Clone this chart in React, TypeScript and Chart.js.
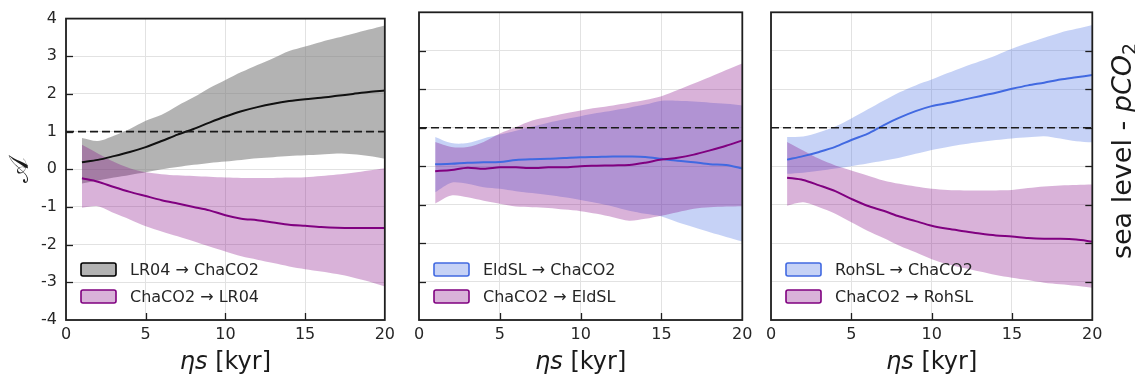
import React, { useEffect, useRef } from "react";
import { Chart, registerables } from "chart.js";

Chart.register(...registerables);

// ---------------- data ----------------
const etaS = [1, 2, 3, 4, 5, 6, 7, 8, 9, 10, 11, 12, 13, 14, 15, 16, 17, 18, 19, 20];
const xMin = 0;
const xMax = 20;
const xTickStep = 5;
const yMin = -4;
const yMax = 4;
const yTickStep = 1;
const referenceLevel = 1;

// Panel 1: LR04 -> ChaCO2 (grey) and ChaCO2 -> LR04 (purple)
const lr04ChaMean = [0.19, 0.25, 0.35, 0.46, 0.59, 0.75, 0.92, 1.07, 1.24, 1.4, 1.54, 1.65, 1.74, 1.81, 1.86, 1.9, 1.95, 2.0, 2.05, 2.09];
const lr04ChaUpper = [0.83, 0.75, 0.89, 1.07, 1.29, 1.45, 1.69, 1.91, 2.16, 2.37, 2.58, 2.77, 2.95, 3.14, 3.26, 3.38, 3.49, 3.6, 3.71, 3.82];
const lr04ChaLower = [-0.38, -0.3, -0.22, -0.15, -0.08, 0.0, 0.06, 0.12, 0.17, 0.21, 0.25, 0.29, 0.32, 0.35, 0.37, 0.39, 0.42, 0.4, 0.35, 0.28];
const chaLr04Mean = [-0.24, -0.33, -0.47, -0.6, -0.71, -0.82, -0.91, -1.0, -1.09, -1.22, -1.31, -1.35, -1.41, -1.47, -1.5, -1.53, -1.55, -1.56, -1.56, -1.56];
const chaLr04Upper = [0.65, 0.42, 0.2, 0.03, -0.08, -0.13, -0.16, -0.18, -0.2, -0.22, -0.23, -0.23, -0.23, -0.22, -0.21, -0.18, -0.14, -0.09, -0.03, 0.03];
const chaLr04Lower = [-1.02, -0.98, -1.16, -1.33, -1.51, -1.65, -1.78, -1.91, -2.05, -2.18, -2.31, -2.4, -2.49, -2.58, -2.65, -2.71, -2.78, -2.87, -2.98, -3.11];

// Panel 2: EldSL -> ChaCO2 (blue) and ChaCO2 -> EldSL (purple)
const eldChaMean = [0.05, 0.06, 0.09, 0.1, 0.11, 0.16, 0.18, 0.19, 0.21, 0.23, 0.24, 0.25, 0.25, 0.24, 0.19, 0.14, 0.1, 0.05, 0.03, -0.06];
const eldChaUpper = [0.76, 0.6, 0.6, 0.72, 0.82, 0.92, 1.03, 1.13, 1.22, 1.3, 1.38, 1.45, 1.52, 1.6, 1.7, 1.7, 1.68, 1.65, 1.62, 1.58];
const eldChaLower = [-0.68, -0.43, -0.46, -0.55, -0.59, -0.65, -0.7, -0.75, -0.81, -0.88, -0.96, -1.05, -1.16, -1.24, -1.31, -1.46, -1.59, -1.72, -1.84, -1.96];
const chaEldMean = [-0.13, -0.1, -0.04, -0.07, -0.03, -0.03, -0.05, -0.03, -0.03, 0.0, 0.01, 0.02, 0.03, 0.09, 0.17, 0.22, 0.3, 0.41, 0.53, 0.67];
const chaEldUpper = [0.63, 0.5, 0.5, 0.63, 0.85, 1.02, 1.19, 1.28, 1.37, 1.45, 1.52, 1.58, 1.65, 1.72, 1.82, 1.98, 2.15, 2.32, 2.5, 2.67];
const chaEldLower = [-0.97, -0.76, -0.81, -0.9, -0.98, -1.05, -1.07, -1.09, -1.13, -1.17, -1.24, -1.33, -1.42, -1.37, -1.29, -1.2, -1.11, -1.07, -1.05, -1.04];

// Panel 3: RohSL -> ChaCO2 (blue) and ChaCO2 -> RohSL (purple)
const rohChaMean = [0.17, 0.26, 0.37, 0.5, 0.68, 0.84, 1.06, 1.26, 1.43, 1.56, 1.64, 1.73, 1.82, 1.91, 2.01, 2.1, 2.17, 2.25, 2.31, 2.37];
const rohChaUpper = [0.76, 0.77, 0.88, 1.03, 1.24, 1.47, 1.7, 1.92, 2.1, 2.25, 2.42, 2.58, 2.73, 2.88, 3.05, 3.2, 3.34, 3.47, 3.57, 3.67];
const rohChaLower = [-0.2, -0.17, -0.12, -0.06, 0.0, 0.07, 0.14, 0.22, 0.32, 0.42, 0.5, 0.57, 0.63, 0.68, 0.72, 0.75, 0.78, 0.72, 0.65, 0.62];
const chaRohMean = [-0.3, -0.36, -0.5, -0.65, -0.85, -1.03, -1.16, -1.31, -1.43, -1.55, -1.63, -1.69, -1.75, -1.8, -1.83, -1.87, -1.89, -1.89, -1.91, -1.96];
const chaRohUpper = [0.63, 0.41, 0.19, 0.02, -0.11, -0.24, -0.37, -0.46, -0.53, -0.59, -0.62, -0.63, -0.63, -0.63, -0.62, -0.57, -0.53, -0.5, -0.49, -0.48];
const chaRohLower = [-1.03, -0.94, -1.07, -1.24, -1.46, -1.68, -1.87, -2.07, -2.24, -2.42, -2.55, -2.65, -2.74, -2.83, -2.9, -2.96, -3.03, -3.07, -3.11, -3.16];

const legendLabels = [
  ["LR04 \u2192 ChaCO2", "ChaCO2 \u2192 LR04"],
  ["EldSL \u2192 ChaCO2", "ChaCO2 \u2192 EldSL"],
  ["RohSL \u2192 ChaCO2", "ChaCO2 \u2192 RohSL"],
];
const xTitleMath = "\u03b7s";
const xTitleUnit = " [kyr]";
const yTitle = "\ud835\udc9c";

// ---------------- styles ----------------
const FONT = "'DejaVu Sans', 'Noto Sans', sans-serif";
const GREY_FILL = "rgba(128,128,128,0.6)";
const PURPLE_FILL = "rgba(128,0,128,0.3)";
const BLUE_FILL = "rgba(65,105,225,0.3)";
const BLACK_LINE = "#111111";
const PURPLE_LINE = "#800080";
const BLUE_LINE = "#4169e1";
const GRID = "#e2e2e2";
const FRAME = "#1e1e1e";
const TEXT = "#262626";

const pts = (ys: number[]) => etaS.map((x, i) => ({ x, y: ys[i] }));

function band(lower: number[], upper: number[], fill: string, order: number) {
  return [
    { data: pts(lower), borderColor: "rgba(0,0,0,0)", borderWidth: 0, pointRadius: 0, fill: false, tension: 0.3, order },
    { data: pts(upper), borderColor: "rgba(0,0,0,0)", borderWidth: 0, pointRadius: 0, fill: "-1", backgroundColor: fill, tension: 0.3, order },
  ];
}
function meanLine(mean: number[], color: string, order: number) {
  return { data: pts(mean), borderColor: color, borderWidth: 2, pointRadius: 0, fill: false, tension: 0.3, order };
}
function refLine() {
  return {
    data: [{ x: xMin, y: referenceLevel }, { x: xMax, y: referenceLevel }],
    borderColor: "#1a1a1a", borderWidth: 1.6, borderDash: [8, 4], pointRadius: 0, fill: false, order: 0,
  };
}

type PanelSpec = {
  left: number;
  width: number;
  padding: { left: number; right: number; top: number; bottom: number };
  yWidth: number;
  yPos: "left" | "right";
  showYLabels: boolean;
  tickSide: "left" | "right";
  datasets: any[];
  legend: { label: string; fill: string; stroke: string }[];
  yTitle?: boolean;
  rightTitle?: boolean;
};

const panels: PanelSpec[] = [
  {
    left: 0, width: 400,
    padding: { left: 0, right: 13, top: 17.5, bottom: 0 },
    yWidth: 66, yPos: "left", showYLabels: true, tickSide: "left",
    datasets: [
      ...band(lr04ChaLower, lr04ChaUpper, GREY_FILL, 4),
      ...band(chaLr04Lower, chaLr04Upper, PURPLE_FILL, 3),
      meanLine(lr04ChaMean, BLACK_LINE, 2),
      meanLine(chaLr04Mean, PURPLE_LINE, 1),
      refLine(),
    ],
    legend: [
      { label: legendLabels[0][0], fill: GREY_FILL, stroke: "#000000" },
      { label: legendLabels[0][1], fill: PURPLE_FILL, stroke: PURPLE_LINE },
    ],
    yTitle: true,
  },
  {
    left: 400, width: 360,
    padding: { left: 0, right: 17.7, top: 12.3, bottom: 0 },
    yWidth: 19, yPos: "left", showYLabels: false, tickSide: "left",
    datasets: [
      ...band(eldChaLower, eldChaUpper, BLUE_FILL, 4),
      ...band(chaEldLower, chaEldUpper, PURPLE_FILL, 3),
      meanLine(eldChaMean, BLUE_LINE, 2),
      meanLine(chaEldMean, PURPLE_LINE, 1),
      refLine(),
    ],
    legend: [
      { label: legendLabels[1][0], fill: BLUE_FILL, stroke: BLUE_LINE },
      { label: legendLabels[1][1], fill: PURPLE_FILL, stroke: PURPLE_LINE },
    ],
  },
  {
    left: 760, width: 375,
    padding: { left: 11, right: 0, top: 12.3, bottom: 0 },
    yWidth: 42.7, yPos: "right", showYLabels: false, tickSide: "right",
    datasets: [
      ...band(rohChaLower, rohChaUpper, BLUE_FILL, 4),
      ...band(chaRohLower, chaRohUpper, PURPLE_FILL, 3),
      meanLine(rohChaMean, BLUE_LINE, 2),
      meanLine(chaRohMean, PURPLE_LINE, 1),
      refLine(),
    ],
    legend: [
      { label: legendLabels[2][0], fill: BLUE_FILL, stroke: BLUE_LINE },
      { label: legendLabels[2][1], fill: PURPLE_FILL, stroke: PURPLE_LINE },
    ],
    rightTitle: true,
  },
];

type Part = { t: string; italic?: boolean; scale?: number; dy?: number };

function drawRich(ctx: CanvasRenderingContext2D, parts: Part[], size: number, cx: number, cy: number, rot: number) {
  ctx.save();
  ctx.translate(cx, cy);
  ctx.rotate(rot);
  ctx.textBaseline = "alphabetic";
  ctx.textAlign = "left";
  const fontOf = (p: Part) => `${p.italic ? "italic " : ""}${Math.round(size * (p.scale ?? 1))}px ${FONT}`;
  const widths = parts.map((p) => {
    ctx.font = fontOf(p);
    return ctx.measureText(p.t).width;
  });
  const total = widths.reduce((a, b) => a + b, 0);
  let x = -total / 2;
  parts.forEach((p, i) => {
    ctx.font = fontOf(p);
    ctx.fillText(p.t, x, (p.dy ?? 0) * size);
    x += widths[i];
  });
  ctx.restore();
}

function decorPlugin(spec: PanelSpec, idx: number) {
  return {
    id: "decor" + idx,
    afterDraw(chart: any) {
      const ctx: CanvasRenderingContext2D = chart.ctx;
      const a = chart.chartArea;
      const xs = chart.scales.x;
      const ys = chart.scales.y;
      ctx.save();
      // inward tick marks
      ctx.strokeStyle = FRAME;
      ctx.lineWidth = 1.3;
      xs.ticks.forEach((t: any) => {
        if (t.value <= xs.min || t.value >= xs.max) return;
        const px = Math.round(xs.getPixelForValue(t.value)) + 0.5;
        ctx.beginPath();
        ctx.moveTo(px, a.bottom);
        ctx.lineTo(px, a.bottom - 7);
        ctx.stroke();
      });
      ys.ticks.forEach((t: any) => {
        if (t.value <= ys.min || t.value >= ys.max) return;
        const py = Math.round(ys.getPixelForValue(t.value)) + 0.5;
        ctx.beginPath();
        if (spec.tickSide === "left") {
          ctx.moveTo(a.left, py);
          ctx.lineTo(a.left + 7, py);
        } else {
          ctx.moveTo(a.right, py);
          ctx.lineTo(a.right - 7, py);
        }
        ctx.stroke();
      });
      // frame
      ctx.lineWidth = 1.8;
      ctx.strokeRect(a.left, a.top, a.right - a.left, a.bottom - a.top);
      // legend
      spec.legend.forEach((item, i) => {
        const cy = a.bottom - 50.5 + i * 27;
        const bx = a.left + 15;
        ctx.beginPath();
        ctx.roundRect(bx, cy - 6.5, 35, 13, 2);
        ctx.fillStyle = item.fill;
        ctx.fill();
        ctx.lineWidth = 1.6;
        ctx.strokeStyle = item.stroke;
        ctx.stroke();
        ctx.fillStyle = TEXT;
        ctx.font = `16px ${FONT}`;
        ctx.textBaseline = "middle";
        ctx.textAlign = "left";
        ctx.fillText(item.label, bx + 49, cy + 1);
      });
      // x title
      ctx.fillStyle = "#1a1a1a";
      drawRich(ctx, [{ t: xTitleMath, italic: true }, { t: xTitleUnit }], 24, (a.left + a.right) / 2, 369, 0);
      if (spec.yTitle) {
        ctx.save();
        ctx.translate(28, 170);
        ctx.rotate(-Math.PI / 2);
        ctx.font = `27px ${FONT}`;
        ctx.textAlign = "center";
        ctx.textBaseline = "alphabetic";
        ctx.fillText(yTitle, 0, 0);
        ctx.restore();
      }
      if (spec.rightTitle) {
        drawRich(
          ctx,
          [{ t: "sea level - " }, { t: "pCO", italic: true }, { t: "2", scale: 0.7, dy: 0.2 }],
          27,
          1131 - spec.left,
          151,
          -Math.PI / 2
        );
      }
      ctx.restore();
    },
  };
}

function makeChart(canvas: HTMLCanvasElement, spec: PanelSpec, idx: number) {
  return new Chart(canvas, {
    type: "line",
    data: { datasets: spec.datasets },
    options: {
      animation: false,
      responsive: false,
      maintainAspectRatio: false,
      events: [],
      layout: { padding: spec.padding },
      plugins: { legend: { display: false }, tooltip: { enabled: false }, title: { display: false } },
      scales: {
        x: {
          type: "linear",
          min: xMin,
          max: xMax,
          ticks: {
            stepSize: xTickStep,
            autoSkip: false,
            maxRotation: 0,
            color: TEXT,
            padding: 5,
            font: { family: FONT, size: 16 },
          },
          grid: { color: GRID, lineWidth: 1, drawTicks: false },
          border: { display: false },
          afterFit: (s: any) => {
            s.height = 60;
          },
        },
        y: {
          type: "linear",
          position: spec.yPos,
          min: yMin,
          max: yMax,
          ticks: {
            stepSize: yTickStep,
            display: spec.showYLabels,
            color: TEXT,
            padding: 9,
            font: { family: FONT, size: 16 },
          },
          grid: { color: GRID, lineWidth: 1, drawTicks: false },
          border: { display: false },
          afterFit: (s: any) => {
            s.width = spec.yWidth;
          },
        },
      },
    } as any,
    plugins: [decorPlugin(spec, idx)],
  });
}

export default function App() {
  const refs = [useRef<HTMLCanvasElement>(null), useRef<HTMLCanvasElement>(null), useRef<HTMLCanvasElement>(null)];
  useEffect(() => {
    const charts = panels.map((p, i) => makeChart(refs[i].current as HTMLCanvasElement, p, i));
    return () => charts.forEach((c) => c.destroy());
  }, []);
  return (
    <div style={{ position: "absolute", left: 0, top: 0, width: 1135, height: 380, background: "#ffffff", overflow: "hidden" }}>
      {panels.map((p, i) => (
        <canvas
          key={i}
          ref={refs[i]}
          width={p.width}
          height={380}
          style={{ position: "absolute", left: p.left, top: 0, width: p.width, height: 380 }}
        />
      ))}
    </div>
  );
}
